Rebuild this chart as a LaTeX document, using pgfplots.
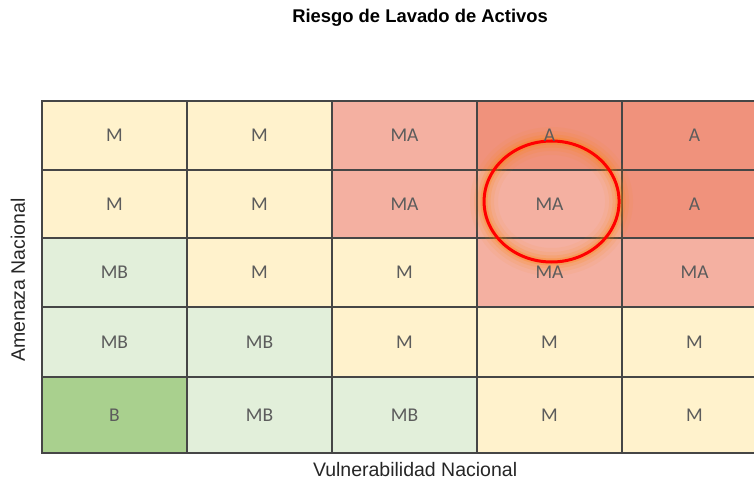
\documentclass[border=0pt]{standalone}
\usepackage{fontspec}
\setmainfont{Liberation Sans}
\newfontfamily\calibri{Carlito}
\usepackage{pgfplots}
\usepackage{pgfplotstable}
\pgfplotsset{compat=1.18}
\definecolor{cM}{RGB}{255,242,204}
\definecolor{cMB}{RGB}{226,239,218}
\definecolor{cB}{RGB}{169,208,142}
\definecolor{cMA}{RGB}{244,176,161}
\definecolor{cA}{RGB}{240,146,124}
\definecolor{gridc}{RGB}{70,70,70}
\definecolor{lab}{RGB}{92,92,92}
\definecolor{glow}{RGB}{255,130,0}
\newcommand{\cell}[5]{\addplot[fill=#1, draw=gridc, line width=1.1pt] coordinates {(#2,#3) (#4,#3) (#4,#5) (#2,#5)} --cycle;}
\pgfplotstableread{
x y label
0.5 317.5 M
1.5 317.5 M
2.5 317.5 MA
3.5 317.5 A
4.5 317.5 A
0.5 249 M
1.5 249 M
2.5 249 MA
3.5 249 MA
4.5 249 A
0.5 180.5 MB
1.5 180.5 M
2.5 180.5 M
3.5 180.5 MA
4.5 180.5 MA
0.5 111 MB
1.5 111 MB
2.5 111 M
3.5 111 M
4.5 111 M
0.5 38 B
1.5 38 MB
2.5 38 MB
3.5 38 M
4.5 38 M
}\labels
\begin{document}
\begin{tikzpicture}
\useasboundingbox (0,0) rectangle (754pt,485pt);
\begin{axis}[
  at={(40.5pt,30.5pt)}, anchor=south west,
  scale only axis, width=713.5pt, height=355pt,
  xmin=-0.01, xmax=4.91, ymin=-1.5, ymax=353.5,
  axis line style={draw=none}, ticks=none,
  title={\bfseries Riesgo de Lavado de Activos},
  title style={at={(rel axis cs:0.532,1)}, anchor=center, yshift=75.5pt, font=\fontsize{18.4}{22}\selectfont},
  xlabel={Vulnerabilidad Nacional},
  xlabel style={at={(rel axis cs:0.525,0)}, anchor=center, yshift=-15.5pt, font=\fontsize{19.5}{23}\selectfont, text=black!85},
  ylabel={Amenaza Nacional},
  ylabel style={at={(rel axis cs:0,0.4915)}, anchor=center, yshift=22.5pt, font=\fontsize{19.5}{23}\selectfont, text=black!85},
]
% row 1 (top)
\cell{cM}{0}{283}{1}{352}
\cell{cM}{1}{283}{2}{352}
\cell{cMA}{2}{283}{3}{352}
\cell{cA}{3}{283}{4}{352}
\cell{cA}{4}{283}{5}{352}
% row 2
\cell{cM}{0}{215}{1}{283}
\cell{cM}{1}{215}{2}{283}
\cell{cMA}{2}{215}{3}{283}
\cell{cMA}{3}{215}{4}{283}
\cell{cA}{4}{215}{5}{283}
% row 3
\cell{cMB}{0}{146}{1}{215}
\cell{cM}{1}{146}{2}{215}
\cell{cM}{2}{146}{3}{215}
\cell{cMA}{3}{146}{4}{215}
\cell{cMA}{4}{146}{5}{215}
% row 4
\cell{cMB}{0}{76}{1}{146}
\cell{cMB}{1}{76}{2}{146}
\cell{cM}{2}{76}{3}{146}
\cell{cM}{3}{76}{4}{146}
\cell{cM}{4}{76}{5}{146}
% row 5
\cell{cB}{0}{0}{1}{76}
\cell{cMB}{1}{0}{2}{76}
\cell{cMB}{2}{0}{3}{76}
\cell{cM}{3}{0}{4}{76}
\cell{cM}{4}{0}{5}{76}
\addplot[only marks, mark=none, nodes near coords, point meta=explicit symbolic,
  nodes near coords style={anchor=center, font=\calibri\fontsize{19.5}{23}\selectfont, text=lab}]
  table[x=x, y=y, meta=label] {\labels};
\draw[glow, line width=28pt, opacity=0.06] (axis cs:3.514,251.5) ellipse [x radius=67.5pt, y radius=60.5pt];
\draw[glow, line width=20pt, opacity=0.09] (axis cs:3.514,251.5) ellipse [x radius=67.5pt, y radius=60.5pt];
\draw[glow, line width=13pt, opacity=0.14] (axis cs:3.514,251.5) ellipse [x radius=67.5pt, y radius=60.5pt];
\draw[glow, line width=7pt, opacity=0.25] (axis cs:3.514,251.5) ellipse [x radius=67.5pt, y radius=60.5pt];
\draw[red, line width=3pt] (axis cs:3.514,251.5) ellipse [x radius=67.5pt, y radius=60.5pt];
\end{axis}
\end{tikzpicture}
\end{document}
